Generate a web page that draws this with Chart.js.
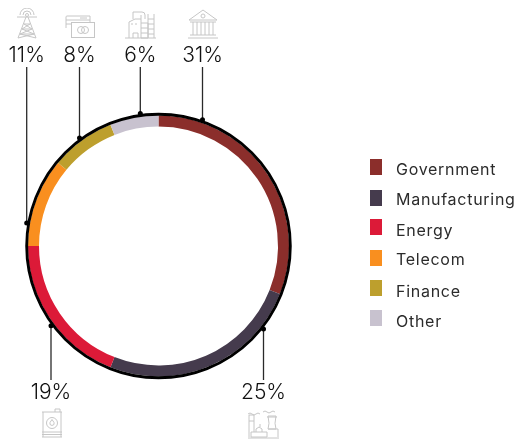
<!DOCTYPE html>
<html lang="en">
<head>
  <meta charset="UTF-8">
  <title>Sector breakdown</title>
  <script src="https://cdn.jsdelivr.net/npm/chart.js"></script>
  <style>
    html, body { margin: 0; padding: 0; background: #fff; }
    #wrap { position: relative; width: 517px; height: 441px; overflow: hidden; }
    #chart { position: absolute; left: 0; top: 0; }
    #legend { position: absolute; left: 0; top: 0; font: 16px/20px Inter, sans-serif; letter-spacing: .72px; color: #2b2b2b; }
    #legend span { position: absolute; left: 396px; white-space: nowrap; }
    #legend i { position: absolute; left: 370px; width: 12px; height: 16px; }
    .icon { position: absolute; fill: none; stroke: #c6c6c6; stroke-width: 1; }
  </style>
</head>
<body>
  <div id="wrap">
    <canvas id="chart" width="517" height="441"></canvas>
    <div id="legend"></div>

    <!-- telecom mast -->
    <svg class="icon" style="left:15px;top:8px" width="24" height="32" viewBox="0 0 24 32">
      <path d="M5 7a7 7 0 0 1 14 0M8 7a4 4 0 0 1 8 0M2 9h20"/>
      <circle cx="12" cy="7" r="1.5"/>
      <path d="M11 9L3 30M13 9l8 21M9 16h6M7 21h10M5 26h14M9 16l8 5M15 16l-8 5M7 21l12 5M17 21L5 26M3 30l16-4M21 30L5 26"/>
    </svg>
    <!-- cards -->
    <svg class="icon" style="left:64px;top:14px" width="32" height="26" viewBox="0 0 32 26">
      <path d="M2 14V3q0-1 1-1h23v6M2 6h24M16 4h7M2 10h6"/>
      <rect x="7.500" y="8.500" width="23" height="15"/>
      <circle cx="17" cy="16" r="3.500"/><circle cx="21" cy="16" r="3.500"/>
    </svg>
    <!-- factory block -->
    <svg class="icon" style="left:124px;top:8px" width="33" height="32" viewBox="0 0 33 32">
      <path d="M1 30h31M5 30V14l6-3h6v19M17 11V7M9 11V4h9q3 0 3 3v4M17 15h7v15h-7M17 20h7M17 25h7M24 6v24M30 6v24M24 11h6M24 16h6M24 21h6M24 26h6"/>
      <path d="M9 30v-5h5v5M7 16h2M11 16h2"/>
    </svg>
    <!-- bank -->
    <svg class="icon" style="left:187px;top:8px" width="32" height="32" viewBox="0 0 32 32">
      <path d="M2 12L16 2l14 10zM3 14h26M6 14v13M10 14v13M14 14v13M18 14v13M22 14v13M26 14v13M3 27h26M1 30h30"/>
      <circle cx="16" cy="8" r="2"/>
    </svg>
    <!-- oil drum -->
    <svg class="icon" style="left:40px;top:408px" width="24" height="32" viewBox="0 0 24 32">
      <path d="M2 4h20M2 29h20M3 4v25M21 4v25M2 24h20M2 26.500h20M15 4V1h5v3"/>
      <circle cx="12" cy="15" r="5.500"/>
      <path d="M12 11.500q-3 3.500-2 5 2 2 4 0 1-1.500-2-5z"/>
    </svg>
    <!-- power plant -->
    <svg class="icon" style="left:247px;top:409px" width="33" height="30" viewBox="0 0 33 30">
      <path d="M1 29h31M2 28V6h5v17M2 12h5M1 5q2-2 4 0t4 0 4 0M16 3q2-2 4 0t4 0 4 0"/>
      <path d="M21 20q2-5 0-13h8q-2 8 0 13zM20 8h10M4 23h16v5H4zM9 23v-3l3-2 3 2v3M13 18v-3M21 20h10v8"/>
    </svg>
  </div>

  <script>
    const categories = ['Government', 'Manufacturing', 'Energy', 'Telecom', 'Finance', 'Other'];
    const shares = [31, 25, 19, 11, 8, 6];
    const colors = ['#8b2e2b', '#453b4d', '#dc1a38', '#f98f1f', '#bd9f2d', '#c8c2cf'];

    // leader line x for each slice, and whether its label sits above the ring
    const leaderX = [202.5, 263.5, 51, 26.7, 79.5, 140.3];
    const leaderUp = [true, false, false, true, true, true];
    const swatchTop = [159, 190, 219, 250, 280, 310];
    const labelMiddle = [169, 199, 229.5, 259, 290.5, 320.5];

    const legend = document.getElementById('legend');
    categories.forEach((name, i) => {
      const swatch = document.createElement('i');
      swatch.style.background = colors[i];
      swatch.style.top = swatchTop[i] + 'px';
      legend.appendChild(swatch);
      const label = document.createElement('span');
      label.textContent = name;
      label.style.top = (labelMiddle[i] - 10) + 'px';
      legend.appendChild(label);
    });

    // black rim, leader lines and percentage labels
    const annotations = {
      id: 'annotations',
      afterDatasetsDraw(chart) {
        const arc = chart.getDatasetMeta(0).data[0];
        const { x: cx, y: cy, outerRadius } = arc;
        const c = chart.ctx;
        c.save();
        c.strokeStyle = '#000';
        c.lineWidth = 2.9;
        c.beginPath();
        c.arc(cx, cy, outerRadius + 1.3, 0, Math.PI * 2);
        c.stroke();

        const anchor = outerRadius + 3.3;
        c.font = '300 21px Inter, sans-serif';
        c.textAlign = 'center';
        c.textBaseline = 'alphabetic';
        shares.forEach((v, i) => {
          const x = leaderX[i];
          const dx = x - cx;
          const dy = Math.sqrt(anchor * anchor - dx * dx);
          const y = leaderUp[i] ? cy - dy : cy + dy;
          c.strokeStyle = '#2a2a2a';
          c.lineWidth = 1.3;
          c.beginPath();
          c.moveTo(x, y);
          c.lineTo(x, leaderUp[i] ? 67 : 380);
          c.stroke();
          c.fillStyle = '#000';
          c.beginPath();
          c.arc(x, y, 2.5, 0, Math.PI * 2);
          c.fill();
          c.fillStyle = '#111';
          c.fillText(v + '%', x, leaderUp[i] ? 62 : 399);
        });
        c.restore();
      }
    };

    new Chart(document.getElementById('chart').getContext('2d'), {
      type: 'doughnut',
      data: {
        labels: categories,
        datasets: [{ data: shares, backgroundColor: colors, borderWidth: 0 }]
      },
      options: {
        responsive: false,
        animation: false,
        cutout: 119.5,
        layout: { padding: { left: 28, right: 228, top: 115.5, bottom: 64.5 } },
        plugins: { legend: { display: false }, tooltip: { enabled: false } }
      },
      plugins: [annotations]
    });
  </script>
</body>
</html>
